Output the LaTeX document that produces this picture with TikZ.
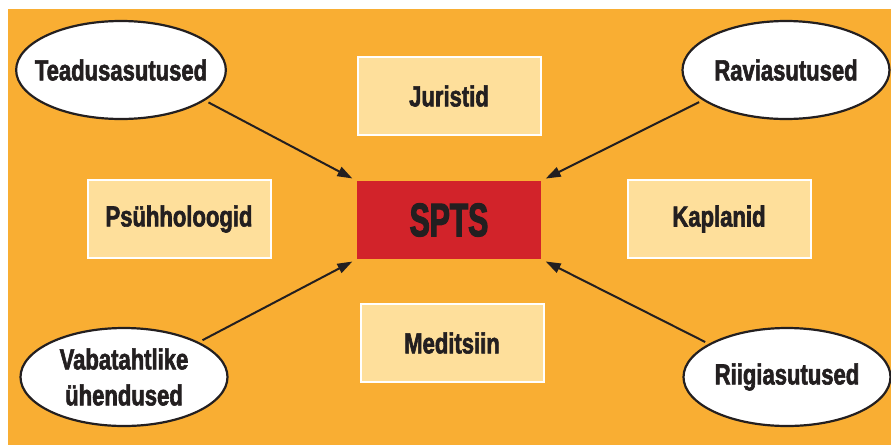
\documentclass[tikz,border=0pt]{standalone}
\usepackage{fontspec}
\setmainfont{Liberation Sans}[FakeStretch=0.76, BoldFeatures={FakeBold=2}]
\newfontfamily\sptsfont{Liberation Sans}[FakeStretch=0.64, BoldFeatures={FakeBold=2.5}]
\usetikzlibrary{shapes.geometric,arrows.meta}
\definecolor{bgorange}{HTML}{F9AE33}
\definecolor{boxfill}{HTML}{FEDF9B}
\definecolor{sptsred}{HTML}{D2232A}
\definecolor{ink}{HTML}{231F20}
\begin{document}
\begin{tikzpicture}[x=1pt, y=-1pt]
\useasboundingbox (0,0) rectangle (891,445);
\fill[bgorange] (8,9) rectangle (891,445);
\begin{scope}[every node/.style={ellipse, draw=ink, line width=2.2pt, fill=white, inner xsep=-12pt, inner ysep=0pt, minimum width=207pt, minimum height=98pt, text=ink, align=center, font=\fontsize{29}{36}\selectfont\bfseries}]
    \node (tead) at (121,70) {Teadusasutused};
    \node (ravi) at (786,70) {Raviasutused};
    \node (vaba) at (124,377) {Vabatahtlike\\ühendused};
    \node (riig) at (787,377) {Riigiasutused};
\end{scope}
\begin{scope}[every node/.style={rectangle, draw=white, line width=2pt, fill=boxfill, inner sep=0pt, minimum width=183pt, minimum height=78pt, text=ink, font=\fontsize{29}{36}\selectfont\bfseries}]
    \node (juri) at (449,96) {Juristid};
    \node (psyh) at (179,219) {Psühholoogid};
    \node (kapl) at (719,219) {Kaplanid};
    \node (medi) at (452,343) {Meditsiin};
\end{scope}
\node[rectangle, fill=sptsred, inner sep=0pt, minimum width=184pt, minimum height=78pt, text=ink, font=\fontsize{47}{50}\sptsfont\bfseries] (spts) at (449,220) {SPTS};
\begin{scope}[every edge/.style={draw=ink, line width=2pt, -{Triangle[length=15pt,width=10pt]}, shorten <=4pt, shorten >=5pt}]
    \path (tead.-20) edge (spts.north west);
    \path (ravi.200) edge (spts.north east);
    \path (vaba.25) edge (spts.south west);
    \path (riig.157) edge (spts.south east);
\end{scope}
\end{tikzpicture}
\end{document}
